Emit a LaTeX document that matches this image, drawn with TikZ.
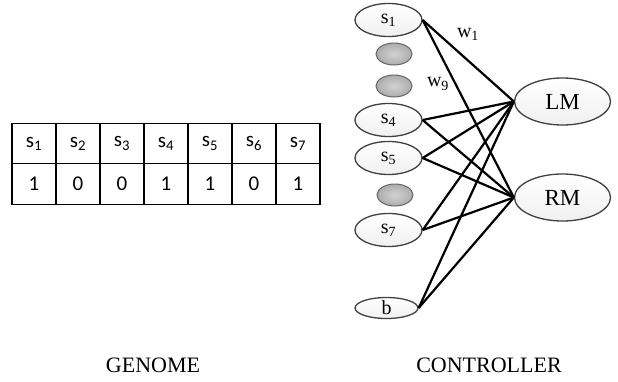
\documentclass[tikz,border=0pt]{standalone}
\usepackage{fontspec}
\setmainfont{Liberation Serif}
\newfontfamily\calib{Carlito}
\usetikzlibrary{shapes.geometric}
\tikzset{
  inp/.style={ellipse, draw=black!75, line width=1.3pt, top color=white, bottom color=gray!12,
    minimum width=67pt, minimum height=33pt, inner sep=0pt, font=\fontsize{20}{22}\selectfont},
  outp/.style={ellipse, draw=black!75, line width=1.3pt, top color=white, bottom color=gray!12,
    minimum width=96pt, minimum height=47pt, inner sep=0pt, font=\fontsize{23}{26}\selectfont},
  dot/.style={ellipse, draw=black!60, line width=1pt, inner color=gray!35, outer color=gray!65,
    minimum width=36pt, minimum height=22pt, inner sep=0pt},
  wire/.style={line width=2.2pt, black},
  cell/.style={draw=black, line width=1.3pt, minimum width=44pt, minimum height=40.5pt, inner sep=0pt,
    font=\calib\fontsize{21}{23}\selectfont},
  caption/.style={font=\fontsize{22}{25}\selectfont},
  wlab/.style={font=\fontsize{20}{22}\selectfont, inner sep=0pt}
}
\begin{document}
\begin{tikzpicture}[x=1pt,y=-1pt]
\useasboundingbox (0,0) rectangle (618,381);
% genome table
\foreach \i/\v in {1/1,2/0,3/0,4/1,5/1,6/0,7/1}{
  \node[cell] (h\i) at ({12+44*(\i-0.5)},143.5) {s\textsubscript{\i}};
  \node[cell] (v\i) at ({12+44*(\i-0.5)},184) {\v};
}
\node[caption] (genome) at (153,365) {GENOME};
\node[caption] (controller) at (489,365) {CONTROLLER};
% controller
\node[inp] (s1) at (388.5,20) {s\textsubscript{1}};
\node[dot] (d1) at (394,54) {};
\node[dot] (d2) at (394,86) {};
\node[inp] (s4) at (388.5,120) {s\textsubscript{4}};
\node[inp] (s5) at (388.5,158) {s\textsubscript{5}};
\node[dot] (d3) at (395,195) {};
\node[inp] (s7) at (388.5,230) {s\textsubscript{7}};
\node[inp, minimum width=63pt, minimum height=21pt, font=\fontsize{20}{20}\selectfont] (b) at (386.5,308) {b};
\node[outp] (lm) at (562.5,101.5) {LM};
\node[outp] (rm) at (562.5,197.5) {RM};
\foreach \s in {s1,s4,s5,s7,b}{
  \draw[wire] (\s.east) -- (lm.west);
  \draw[wire] (\s.east) -- (rm.west);
}
\node[wlab] (w1) at (468,34) {w\textsubscript{1}};
\node[wlab] (w9) at (438,84) {w\textsubscript{9}};
\end{tikzpicture}
\end{document}
